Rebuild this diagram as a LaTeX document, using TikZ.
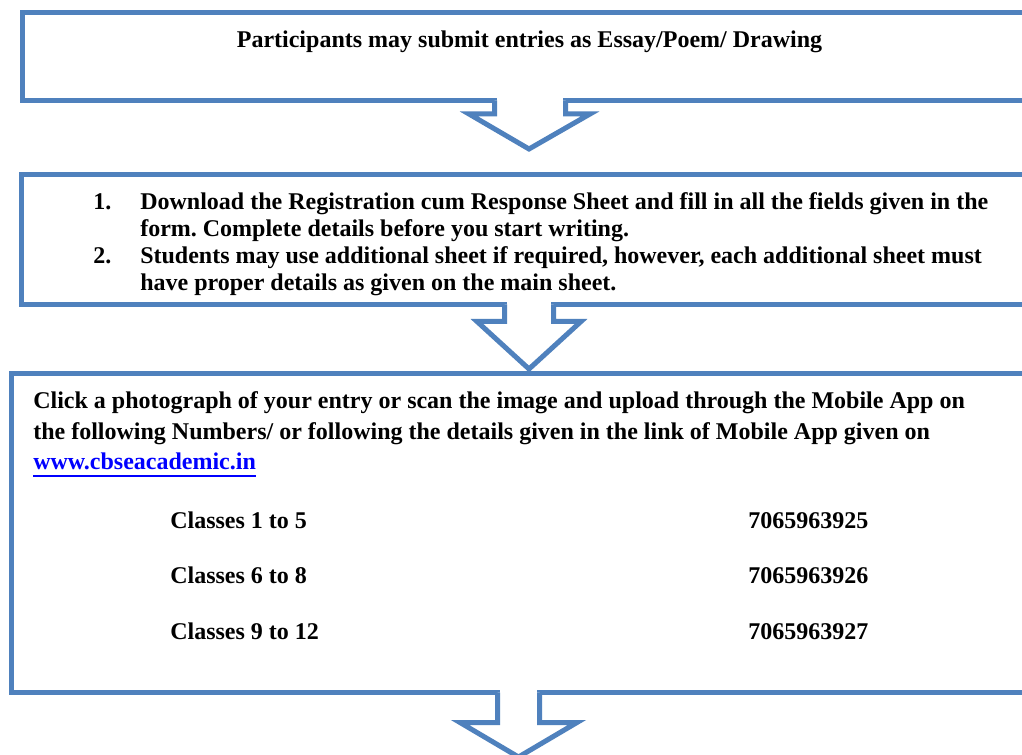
\documentclass[tikz,border=0pt]{standalone}
\usepackage{fontspec}
\setmainfont{Liberation Serif}
\frenchspacing
\definecolor{boxblue}{HTML}{4F81BD}
\definecolor{linkblue}{HTML}{0000FF}
\tikzset{
  boxframe/.style={draw=boxblue, line width=3.75pt, line join=miter},
  blockarrow/.style={draw=boxblue, fill=white, line width=3.75pt, line join=miter, miter limit=20},
  eraser/.style={fill=white, draw=none},
  txt/.style={font=\fontsize{18}{20}\selectfont\bfseries, inner sep=0pt, anchor=base west},
  ctxt/.style={txt, anchor=base},
}
\begin{document}
\begin{tikzpicture}[x=0.75pt,y=-0.75pt]
\useasboundingbox (0,0) rectangle (1022,755);
\clip (0,0) rectangle (1022,755);
\fill[white] (0,0) rectangle (1022,755);

% boxes
\coordinate (b1nw) at (22.5,12.5);   \coordinate (b1se) at (1060,100.5);
\coordinate (b2nw) at (21.5,175);    \coordinate (b2se) at (1060,304.5);
\coordinate (b3nw) at (11.5,374);    \coordinate (b3se) at (1060,692.5);
\draw[boxframe] (b1nw) rectangle (b1se);
\draw[boxframe] (b2nw) rectangle (b2se);
\draw[boxframe] (b3nw) rectangle (b3se);

% arrow 1
\fill[eraser] (497,96) rectangle (563,101);
\draw[blockarrow] (494.5,100.5) -- (494.5,114) -- (469,114) -- (529,149) -- (590,114) -- (565.5,114) -- (565.5,100.5);
% arrow 2
\fill[eraser] (507,300) rectangle (551,305);
\draw[blockarrow] (504.5,304.5) -- (504.5,321.5) -- (477,321.5) -- (529,369) -- (581,321.5) -- (553.5,321.5) -- (553.5,304.5);
% arrow 3
\fill[eraser] (500,688) rectangle (537,693);
\draw[blockarrow] (497.5,692.5) -- (497.5,722.5) -- (460,722.5) -- (518.5,757) -- (577,722.5) -- (539.5,722.5) -- (539.5,692.5);

% texts box 1
\node[ctxt] (t1) at (529.5,48) {Participants may submit entries as Essay/Poem/ Drawing};

% texts box 2
\node[txt] (n1) at (93,210) {1.};
\node[txt] (l1a) at (140,210) {Download the Registration cum Response Sheet and fill in all the fields given in the};
\node[txt] (l1b) at (140,237) {form. Complete details before you start writing.};
\node[txt] (n2) at (93,264) {2.};
\node[txt] (l2a) at (140,264) {Students may use additional sheet if required, however, each additional sheet must};
\node[txt] (l2b) at (140,291) {have proper details as given on the main sheet.};

% texts box 3
\node[txt] (c1) at (33,409) {Click a photograph of your entry or scan the image and upload through the Mobile App on};
\node[txt] (c2) at (33,439.5) {the following Numbers/ or following the details given in the link of Mobile App given on};
\node[txt, text=linkblue] (link) at (33,470) {www.cbseacademic.in};
\draw[linkblue, line width=1.4pt] ([yshift=-4.2pt]link.base west) -- ([yshift=-4.2pt]link.base east);

\node[txt] (k1) at (170,529) {Classes 1 to 5};
\node[txt] (p1) at (748,529) {7065963925};
\node[txt] (k2) at (170,584) {Classes 6 to 8};
\node[txt] (p2) at (748,584) {7065963926};
\node[txt] (k3) at (170,640) {Classes 9 to 12};
\node[txt] (p3) at (748,640) {7065963927};
\end{tikzpicture}
\end{document}
